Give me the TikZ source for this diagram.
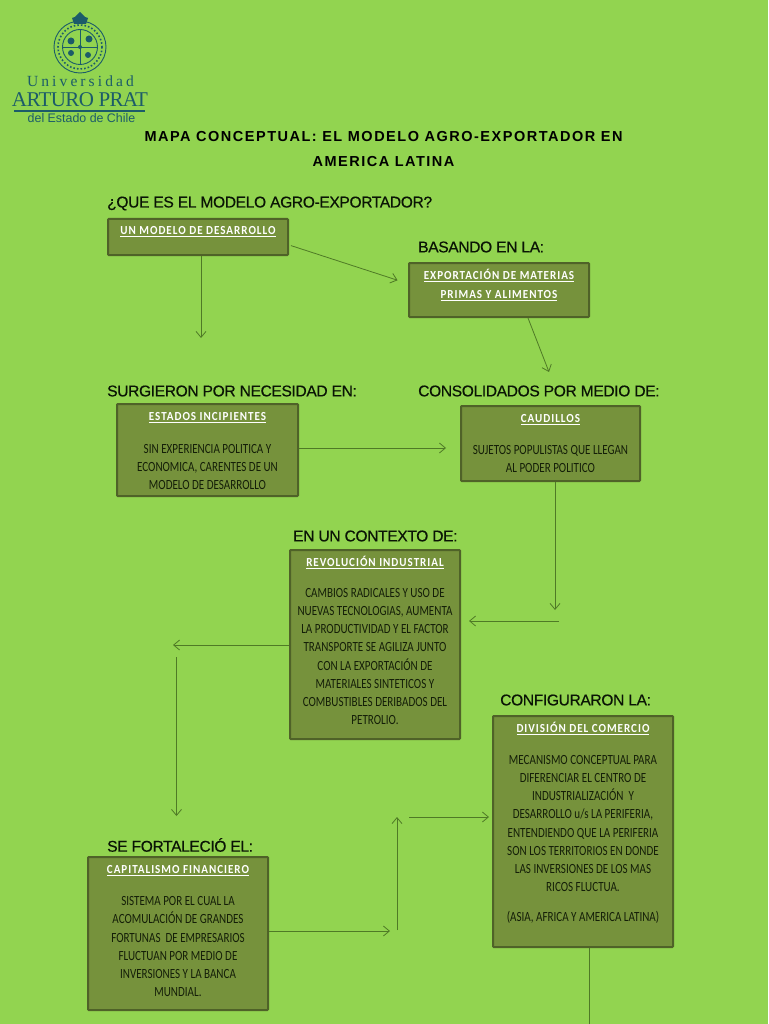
\documentclass[tikz,border=0pt]{standalone}
\usepackage{fontspec}
\setmainfont{Liberation Sans}
\newfontfamily\boxfont[FakeStretch=0.79]{Carlito}
\newfontfamily\headfont[FakeStretch=0.9,LetterSpace=8,BoldFont=Carlito Bold]{Carlito}
\newfontfamily\logofont{Liberation Serif}
\newfontfamily\titlefont[LetterSpace=10.4]{Liberation Sans}
\usetikzlibrary{arrows.meta}
\newcommand{\boxhead}[1]{{\headfont\bfseries\fontsize{12.3}{18}\selectfont\textcolor{white}{\underline{#1}}}}

\begin{document}
\begin{tikzpicture}[x=1pt,y=-1pt,font=\fontsize{15.6}{18}\selectfont,
mapbox/.style={draw={rgb,255:red,79;green,98;blue,40},line width=2pt,fill={rgb,255:red,118;green,146;blue,60},rounded corners=.8pt,align=center,inner sep=0pt,anchor=north west},
conn/.style={draw={rgb,255:red,79;green,122;blue,38},line width=.8pt,-{Straight Barb[length=6pt,width=10pt]}},
plainconn/.style={draw={rgb,255:red,79;green,122;blue,38},line width=.8pt},
sec/.style={anchor=west,inner sep=0pt,text={rgb,255:red,10;green,20;blue,5}},
logoink/.style={draw={rgb,255:red,28;green,92;blue,105}},
logofill/.style={fill={rgb,255:red,28;green,92;blue,105}},
logotxt/.style={text={rgb,255:red,28;green,92;blue,105},inner sep=0pt},
boxtxt/.style={anchor=north,align=center,inner sep=0pt,text={rgb,255:red,20;green,30;blue,8},font=\boxfont\fontsize{14}{18.1}\selectfont}]
\fill[fill={rgb,255:red,146;green,212;blue,80}] (0,0) rectangle (768,1024);
\useasboundingbox (0,0) rectangle (768,1024);
% logo
\draw[logoink,line width=.9pt] (80,47) circle (26) (80,47) circle (17.5);
\draw[logoink,line width=1.6pt,dotted] (80,47) circle (22);
\draw[logoink,line width=.7pt] (80,29.5)--(80,64.5) (62.5,47)--(97.5,47);
\fill[logofill] (80,47) circle (2) (71,41) circle (3.5) (89,39) circle (3.5) (71,53) circle (3) (88,55) circle (3);
\fill[logofill] (80,12) -- (85,17) -- (88,18) -- (86,24) -- (74,24) -- (72,18) -- (75,17) -- cycle;
\node[logotxt] (unitop) at (80.5,81) {\logofont\addfontfeature{LetterSpace=20}\fontsize{15.5}{15}\selectfont Universidad};
\node[logotxt] (uniname) at (80,99.5) {\logofont\addfontfeature{LetterSpace=-3}\fontsize{21}{21}\selectfont ARTURO PRAT};
\draw[logoink,line width=1.1pt] (14,111)--(145,111);
\node[logotxt] (unisub) at (81.5,118.5) {\fontsize{12.4}{12}\selectfont del Estado de Chile};
% title
\node[inner sep=0pt,text=black] (titleone) at (383.5,136.5) {\titlefont\bfseries\fontsize{14.5}{18}\selectfont MAPA CONCEPTUAL: EL MODELO AGRO-EXPORTADOR EN};
\node[inner sep=0pt,text=black] (titletwo) at (383.5,161.5) {\titlefont\bfseries\fontsize{14.5}{18}\selectfont AMERICA LATINA};
% section labels
\foreach \nam/\x/\y/\lab in {lqueEs/107/203.5/¿QUE ES EL MODELO AGRO-EXPORTADOR?,lbasando/418/247/BASANDO EN LA:,lsurgieron/107/391/SURGIERON POR NECESIDAD EN:,lconsol/418/391/CONSOLIDADOS POR MEDIO DE:,lcontexto/293/536/EN UN CONTEXTO DE:,lconfig/500/700/CONFIGURARON LA:,lfortal/107/845/SE FORTALECIÓ EL:}{\node[sec] (\nam) at (\x,\y) {\addfontfeature{LetterSpace=-2.4,FakeBold=.4}\lab};}
% boxes
\node[mapbox,minimum width=180pt,minimum height=36pt] (modelo) at (107,218) {};
\node[mapbox,minimum width=180pt,minimum height=54pt] (materias) at (408,262) {};
\node[mapbox,minimum width=181pt,minimum height=92pt] (estados) at (116,403) {};
\node[mapbox,minimum width=179pt,minimum height=75pt] (caudillos) at (460,405) {};
\node[mapbox,minimum width=170pt,minimum height=189pt] (revolucion) at (289,549) {};
\node[mapbox,minimum width=180pt,minimum height=231pt] (comercio) at (492,715) {};
\node[mapbox,minimum width=180pt,minimum height=153pt] (capital) at (87,856) {};
% box texts
\node[boxtxt] (tmodelo) at (modelo.north) [yshift=-8pt] {\boxhead{UN MODELO DE DESARROLLO}};
\node[boxtxt] (tmaterias) at (materias.north) [yshift=-7pt] {\boxhead{EXPORTACIÓN DE MATERIAS}\\[.9pt]\boxhead{PRIMAS Y ALIMENTOS}};
\node[boxtxt] (testados) at (estados.north) [yshift=-9.5pt] {\boxhead{ESTADOS INCIPIENTES}\\[14.5pt]SIN EXPERIENCIA POLITICA Y\\ECONOMICA, CARENTES DE UN\\MODELO DE DESARROLLO};
\node[boxtxt] (tcaudillos) at (caudillos.north) [yshift=-9.5pt] {\boxhead{CAUDILLOS}\\[14pt]SUJETOS POPULISTAS QUE LLEGAN\\AL PODER POLITICO};
\node[boxtxt] (trevolucion) at (revolucion.north) [yshift=-7pt] {\boxhead{REVOLUCIÓN INDUSTRIAL}\\[13pt]CAMBIOS RADICALES Y USO DE\\NUEVAS TECNOLOGIAS, AUMENTA\\LA PRODUCTIVIDAD Y EL FACTOR\\TRANSPORTE SE AGILIZA JUNTO\\CON LA EXPORTACIÓN DE\\MATERIALES SINTETICOS Y\\COMBUSTIBLES DERIBADOS DEL\\PETROLIO.};
\node[boxtxt] (tcomercio) at (comercio.north) [yshift=-7pt] {\boxhead{DIVISIÓN DEL COMERCIO}\\[14pt]MECANISMO CONCEPTUAL PARA\\DIFERENCIAR EL CENTRO DE\\INDUSTRIALIZACIÓN\ \ Y\\DESARROLLO u/s LA PERIFERIA,\\ENTENDIENDO QUE LA PERIFERIA\\SON LOS TERRITORIOS EN DONDE\\LAS INVERSIONES DE LOS MAS\\RICOS FLUCTUA.\\[12pt](ASIA, AFRICA Y AMERICA LATINA)};
\node[boxtxt] (tcapital) at (capital.north) [yshift=-9.5pt] {\boxhead{CAPITALISMO FINANCIERO}\\[14pt]SISTEMA POR EL CUAL LA\\ACOMULACIÓN DE GRANDES\\FORTUNAS\ \ DE EMPRESARIOS\\FLUCTUAN POR MEDIO DE\\INVERSIONES Y LA BANCA\\MUNDIAL.};
% connectors
\coordinate (k1) at (201,338);
\coordinate (k2) at (549,372);
\coordinate (k3) at (446,448);
\coordinate (k4) at (555,610);
\coordinate (k5) at (559,621);
\coordinate (k6) at (173,645);
\coordinate (k7) at (176.5,657);
\coordinate (k8) at (176.5,816);
\coordinate (k9) at (390,931);
\coordinate (k10) at (397,930);
\coordinate (k11) at (397,817);
\coordinate (k12) at (409,817);
\coordinate (k13) at (589,1024);
\draw[conn] (modelo.south -| k1)--(k1);
\draw[conn,shorten <=2pt,shorten >=11pt] (modelo.-5)--(materias.176);
\draw[conn] (materias.-44)--(k2);
\draw[conn] (estados.east |- k3)--(k3);
\draw[conn] (caudillos.south -| k4)--(k4);
\draw[conn,shorten >=8pt] (k5)--(revolucion.east |- k5);
\draw[conn] (revolucion.west |- k6)--(k6);
\draw[conn] (k7)--(k8);
\draw[conn] (capital.east |- k9)--(k9);
\draw[conn] (k10)--(k11);
\draw[conn,shorten >=3pt] (k12)--(comercio.west |- k12);
\draw[plainconn] (comercio.south -| k13)--(k13);
\end{tikzpicture}
\end{document}
